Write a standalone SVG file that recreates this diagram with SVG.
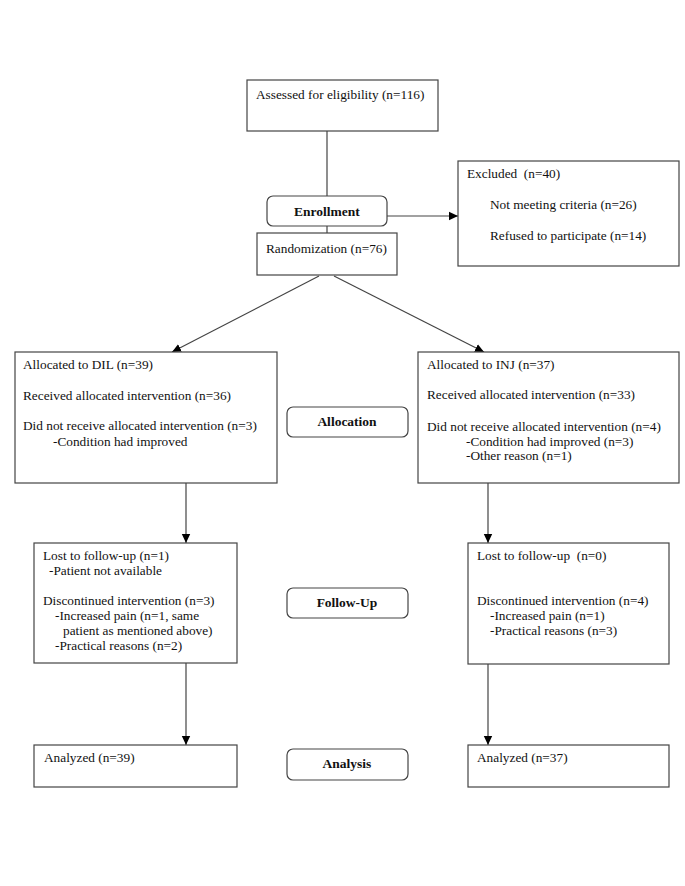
<svg xmlns="http://www.w3.org/2000/svg" width="685" height="886" viewBox="0 0 685 886">
<defs>
<marker id="arr" markerWidth="10" markerHeight="10" refX="9" refY="5" orient="auto" markerUnits="userSpaceOnUse">
<path d="M0,0.8 L9,5 L0,9.2 Z" fill="#000"/>
</marker>
</defs>
<style>
.box{fill:#fff;stroke:#444;stroke-width:1.2}
.lbl{fill:#fff;stroke:#444;stroke-width:1.2}
text{font-family:"Liberation Serif","Times New Roman",serif;font-size:13.3px;fill:#111}
.b{font-weight:bold;text-anchor:middle;font-size:13.5px}
.ln{stroke:#444;stroke-width:1.2;fill:none}
</style>
<rect width="685" height="886" fill="#fff"/>
<g id="connectors">
<line class="ln" x1="327" y1="131" x2="327" y2="196"/>
<line class="ln" x1="327" y1="226" x2="327" y2="233"/>
<line class="ln" x1="387" y1="216" x2="458" y2="216" marker-end="url(#arr)"/>
<line class="ln" x1="319" y1="276" x2="172" y2="352" marker-end="url(#arr)"/>
<line class="ln" x1="334" y1="276" x2="484" y2="352" marker-end="url(#arr)"/>
<line class="ln" x1="186" y1="483" x2="186" y2="543" marker-end="url(#arr)"/>
<line class="ln" x1="488" y1="483" x2="488" y2="543" marker-end="url(#arr)"/>
<line class="ln" x1="186" y1="663" x2="186" y2="745" marker-end="url(#arr)"/>
<line class="ln" x1="488" y1="664" x2="488" y2="745" marker-end="url(#arr)"/>
</g>
<g id="assessed">
<rect class="box" x="247" y="80" width="191" height="51"/>
<text x="256" y="99">Assessed for eligibility (n=116)</text>
</g>
<g id="enrollment">
<rect class="lbl" x="267" y="196" width="120" height="30" rx="6"/>
<text class="b" x="327" y="216">Enrollment</text>
</g>
<g id="randomization">
<rect class="box" x="257" y="233" width="140" height="42"/>
<text x="266" y="253">Randomization (n=76)</text>
</g>
<g id="excluded">
<rect class="box" x="458" y="161" width="221" height="105"/>
<text x="467" y="178" xml:space="preserve">Excluded  (n=40)</text>
<text x="490" y="209">Not meeting criteria (n=26)</text>
<text x="490" y="240">Refused to participate (n=14)</text>
</g>
<g id="alloc-dil">
<rect class="box" x="15" y="352" width="262" height="131"/>
<text x="23" y="369">Allocated to DIL (n=39)</text>
<text x="23" y="400">Received allocated intervention (n=36)</text>
<text x="23" y="430">Did not receive allocated intervention (n=3)</text>
<text x="53" y="446">-Condition had improved</text>
</g>
<g id="allocation">
<rect class="lbl" x="287" y="407" width="121" height="30" rx="6"/>
<text class="b" x="347" y="426">Allocation</text>
</g>
<g id="alloc-inj">
<rect class="box" x="418" y="352" width="261" height="131"/>
<text x="427" y="369">Allocated to INJ (n=37)</text>
<text x="427" y="399">Received allocated intervention (n=33)</text>
<text x="427" y="431">Did not receive allocated intervention (n=4)</text>
<text x="466" y="446">-Condition had improved (n=3)</text>
<text x="466" y="460">-Other reason (n=1)</text>
</g>
<g id="fu-dil">
<rect class="box" x="34" y="543" width="203" height="120"/>
<text x="43" y="560">Lost to follow-up (n=1)</text>
<text x="49" y="575">-Patient not available</text>
<text x="43" y="605">Discontinued intervention (n=3)</text>
<text x="55" y="620">-Increased pain (n=1, same</text>
<text x="63" y="635">patient as mentioned above)</text>
<text x="55" y="650">-Practical reasons (n=2)</text>
</g>
<g id="followup">
<rect class="lbl" x="287" y="588" width="121" height="30" rx="6"/>
<text class="b" x="347" y="607">Follow-Up</text>
</g>
<g id="fu-inj">
<rect class="box" x="468" y="543" width="201" height="121"/>
<text x="477" y="560" xml:space="preserve">Lost to follow-up  (n=0)</text>
<text x="477" y="605">Discontinued intervention (n=4)</text>
<text x="490" y="620">-Increased pain (n=1)</text>
<text x="490" y="635">-Practical reasons (n=3)</text>
</g>
<g id="an-dil">
<rect class="box" x="34" y="745" width="203" height="42"/>
<text x="44" y="762">Analyzed (n=39)</text>
</g>
<g id="analysis">
<rect class="lbl" x="287" y="749" width="121" height="31" rx="6"/>
<text class="b" x="347" y="768">Analysis</text>
</g>
<g id="an-inj">
<rect class="box" x="468" y="745" width="201" height="42"/>
<text x="477" y="762">Analyzed (n=37)</text>
</g>
</svg>
